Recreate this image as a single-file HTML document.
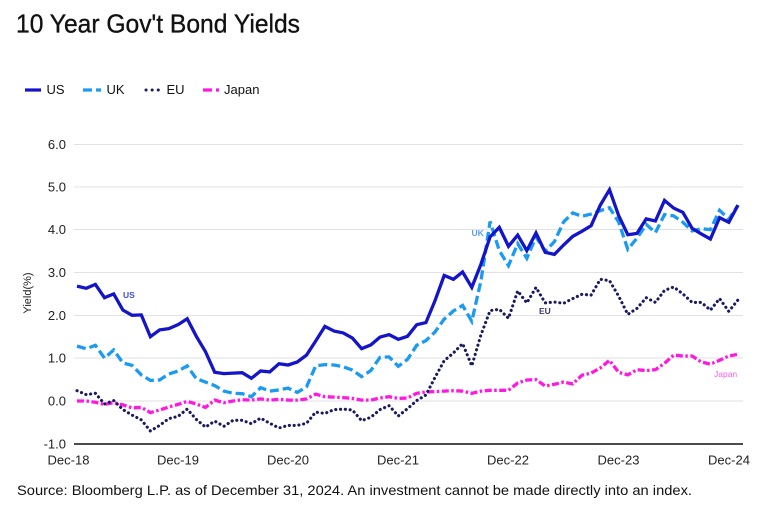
<!DOCTYPE html>
<html><head><meta charset="utf-8"><style>
html,body{margin:0;padding:0;background:#fff;}
svg{display:block;}
text{font-family:"Liberation Sans",Arial,sans-serif;}
</style></head><body>
<svg width="763" height="509" viewBox="0 0 763 509" xmlns="http://www.w3.org/2000/svg">
<rect width="763" height="509" fill="#fff"/>
<text x="16" y="32.5" font-size="26" fill="#111" stroke="#111" stroke-width="0.35" textLength="284" lengthAdjust="spacingAndGlyphs">10 Year Gov't Bond Yields</text>

<!-- legend -->
<line x1="25" y1="90" x2="41" y2="90" stroke="#1414c8" stroke-width="3.2"/>
<text x="46.5" y="94" font-size="13" fill="#111">US</text>
<line x1="83" y1="90" x2="101" y2="90" stroke="#1a9af0" stroke-width="3.2" stroke-dasharray="9 4"/>
<text x="106.5" y="94" font-size="13" fill="#111">UK</text>
<line x1="146" y1="90" x2="159" y2="90" stroke="#1a1a60" stroke-width="3" stroke-linecap="round" stroke-dasharray="0.1 6"/>
<text x="166.5" y="94" font-size="13" fill="#111">EU</text>
<line x1="203" y1="90" x2="219" y2="90" stroke="#ff18e0" stroke-width="3.2" stroke-dasharray="9 4 3 4"/>
<text x="224" y="94" font-size="13" fill="#111">Japan</text>

<!-- grid -->
<g stroke="#e2e2e2" stroke-width="1">
<line x1="74" y1="144.5" x2="743" y2="144.5"/>
<line x1="74" y1="187" x2="743" y2="187"/>
<line x1="74" y1="229.5" x2="743" y2="229.5"/>
<line x1="74" y1="272.5" x2="743" y2="272.5"/>
<line x1="74" y1="315.5" x2="743" y2="315.5"/>
<line x1="74" y1="358" x2="743" y2="358"/>
<line x1="74" y1="401" x2="743" y2="401"/>
</g>
<line x1="74" y1="444" x2="743" y2="444" stroke="#111" stroke-width="1.5"/>

<!-- y labels -->
<g font-size="13" fill="#222" text-anchor="end">
<text x="66" y="149">6.0</text>
<text x="66" y="191.5">5.0</text>
<text x="66" y="234">4.0</text>
<text x="66" y="277">3.0</text>
<text x="66" y="320">2.0</text>
<text x="66" y="362.5">1.0</text>
<text x="66" y="405.5">0.0</text>
<text x="66" y="448.5">-1.0</text>
</g>
<text transform="translate(31,293) rotate(-90)" font-size="11" fill="#222" text-anchor="middle">Yield(%)</text>

<!-- x labels -->
<g font-size="13" fill="#222" text-anchor="middle">
<text x="68.5" y="464.5">Dec-18</text>
<text x="178" y="464.5">Dec-19</text>
<text x="288" y="464.5">Dec-20</text>
<text x="398" y="464.5">Dec-21</text>
<text x="508" y="464.5">Dec-22</text>
<text x="618.5" y="464.5">Dec-23</text>
<text x="729" y="464.5">Dec-24</text>
</g>

<!-- Japan -->
<polyline fill="none" stroke="#ff18e0" stroke-width="3.3" stroke-dasharray="7 2.5 2.5 2.5" points="77,401 86.2,401 95.4,402.3 104.5,404.4 113.7,402.7 122.9,404.9 132.1,407.9 141.3,407.4 150.4,412.6 159.6,410 168.8,407 178,404.4 187.2,401.4 196.3,404 205.5,407.4 214.7,400.1 223.9,402.7 233.1,401 242.2,399.7 251.4,400.1 260.6,398.9 269.8,400.1 279,399.3 288.1,400.1 297.3,400.1 306.5,398.9 315.7,394.1 324.9,396.7 334.1,397.1 343.2,397.6 352.4,398.4 361.6,400.1 370.8,400.1 380,398 389.1,396.7 398.3,398.4 407.5,398 416.7,393.3 425.9,392 435,391.6 444.2,391.1 453.4,390.7 462.6,391.1 471.8,393.3 480.9,391.1 490.1,390.3 499.3,390.3 508.5,390.3 517.7,383 526.8,380 536,379.6 545.2,386 554.4,384.3 563.6,382.1 572.7,383.9 581.9,375.3 591.1,373.1 600.3,368 609.5,360.3 618.6,372.3 627.8,374.9 637,369.7 646.2,370.6 655.4,369.7 664.5,363.3 673.7,355.1 682.9,356 692.1,356 701.3,362 710.4,364.1 719.6,360.3 728.8,356 738,354.3"/>

<!-- EU -->
<polyline fill="none" stroke="#1a1a60" stroke-width="3.1" stroke-linecap="round" stroke-linejoin="round" stroke-dasharray="0.1 4.7" points="77,390.7 86.2,394.6 95.4,393.3 104.5,404 113.7,400.6 122.9,409.6 132.1,415.1 141.3,419.9 150.4,431 159.6,425.4 168.8,418.6 178,416.4 187.2,409.1 196.3,419.4 205.5,427.1 214.7,421.1 223.9,426.3 233.1,420.3 242.2,420.3 251.4,423.7 260.6,418.1 269.8,423.3 279,428 288.1,425.4 297.3,425.4 306.5,423.3 315.7,412.1 324.9,413.4 334.1,409.6 343.2,409.1 352.4,410 361.6,420.7 370.8,417.3 380,409.6 389.1,405.7 398.3,416 407.5,408.7 416.7,400.6 425.9,395 435,377.4 444.2,360.7 453.4,353 462.6,343.6 471.8,365.9 480.9,335 490.1,310.6 499.3,309.3 508.5,318.3 517.7,290.9 526.8,302.9 536,287.4 545.2,302.9 554.4,302 563.6,303.3 572.7,298.6 581.9,294.3 591.1,295.1 600.3,279.3 609.5,280.6 618.6,296 627.8,314.4 637,308.4 646.2,297.7 655.4,302.4 664.5,290.4 673.7,287 682.9,293.9 692.1,302.4 701.3,302.4 710.4,310.1 719.6,298.6 728.8,311.4 738,299.9"/>

<!-- UK -->
<polyline fill="none" stroke="#1a9af0" stroke-width="3.3" stroke-dasharray="9 4" points="77,346.1 86.2,348.7 95.4,345.3 104.5,358.1 113.7,350 122.9,362.9 132.1,365.4 141.3,374.9 150.4,380.4 159.6,380 168.8,374 178,371 187.2,365.9 196.3,378.7 205.5,382.1 214.7,385.6 223.9,391.1 233.1,393.3 242.2,393.7 251.4,396.7 260.6,387.7 269.8,391.1 279,389.9 288.1,388.1 297.3,392.4 306.5,386.9 315.7,365.9 324.9,364.6 334.1,365 343.2,366.7 352.4,370.1 361.6,376.6 370.8,370.6 380,357.3 389.1,356.9 398.3,366.3 407.5,359.4 416.7,345.3 425.9,340.6 435,332 444.2,319.1 453.4,311 462.6,305.4 471.8,321.3 480.9,281 490.1,221.5 499.3,250.6 508.5,265.6 517.7,243.7 526.8,258.3 536,236.9 545.2,251.4 554.4,241.6 563.6,221.9 572.7,212.9 581.9,216.3 591.1,214.1 600.3,210.7 609.5,207.7 618.6,221.9 627.8,249.3 637,238.1 646.2,224.4 655.4,232.6 664.5,214.6 673.7,215.9 682.9,222.3 692.1,230.9 701.3,228.7 710.4,229.6 719.6,210.3 728.8,219.3 738,205.1"/>

<!-- US -->
<polyline fill="none" stroke="#1414c8" stroke-width="3.3" stroke-linejoin="miter" points="77,286.1 86.2,288.3 95.4,284.4 104.5,297.7 113.7,293.9 122.9,310.1 132.1,315.3 141.3,314.9 150.4,336.7 159.6,329.9 168.8,328.6 178,324.7 187.2,318.7 196.3,336.3 205.5,351.7 214.7,372.3 223.9,373.6 233.1,373.1 242.2,372.7 251.4,378.3 260.6,371 269.8,371.9 279,363.7 288.1,365 297.3,362 306.5,355.1 315.7,341 324.9,326.4 334.1,331.1 343.2,332.9 352.4,338 361.6,348.7 370.8,344.9 380,337.1 389.1,334.6 398.3,339.3 407.5,336.3 416.7,324.7 425.9,322.6 435,300.7 444.2,275.4 453.4,279.3 462.6,272 471.8,287.4 480.9,264.3 490.1,236.9 499.3,227.4 508.5,246.3 517.7,235.1 526.8,250.6 536,233 545.2,252.3 554.4,254.4 563.6,245 572.7,236.4 581.9,231.3 591.1,225.7 600.3,205.1 609.5,189.7 618.6,215.4 627.8,234.7 637,233.4 646.2,218.9 655.4,221 664.5,200.4 673.7,208.1 682.9,212.4 692.1,228.3 701.3,233.9 710.4,239 719.6,217.6 728.8,222.3 738,205.1"/>

<!-- series labels -->
<g font-size="8.5" font-weight="bold">
<text x="123" y="298" fill="#3c4fd8">US</text>
<text x="471.5" y="236" fill="#5aa2f0">UK</text>
<text x="539" y="314" fill="#3a3a78">EU</text>
<text x="714" y="377" fill="#ff5ae6" font-weight="normal">Japan</text>
</g>

<text x="17" y="495" font-size="14" fill="#111" textLength="675" lengthAdjust="spacingAndGlyphs">Source: Bloomberg L.P. as of December 31, 2024. An investment cannot be made directly into an index.</text>
</svg>
</body></html>
